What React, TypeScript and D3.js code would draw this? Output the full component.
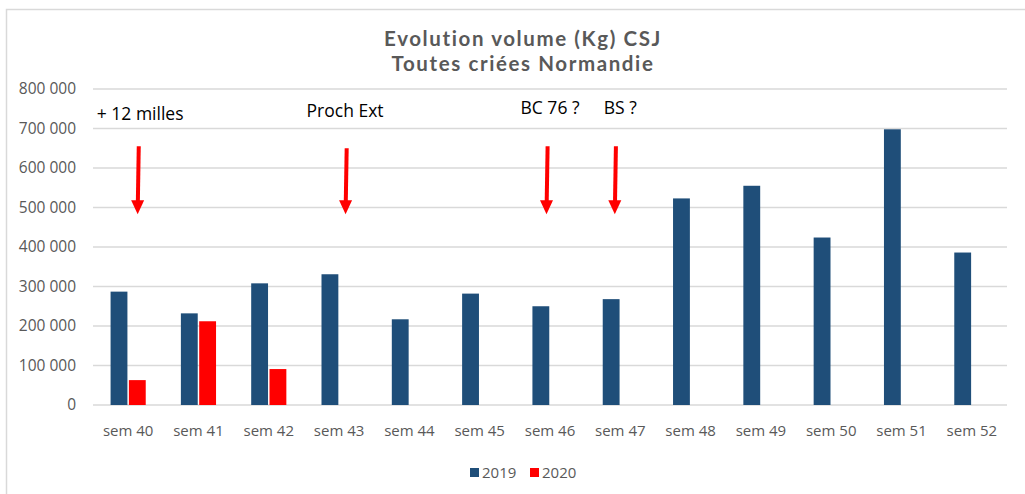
import React from "react";
import * as d3 from "d3";

const categories = ["sem 40","sem 41","sem 42","sem 43","sem 44","sem 45","sem 46","sem 47","sem 48","sem 49","sem 50","sem 51","sem 52"];
const series = ["2019", "2020"];
const values2019 = [287000, 232000, 308000, 331000, 217000, 282000, 250000, 268000, 523000, 555000, 424000, 698000, 386000];
const values2020: (number | null)[] = [63000, 212000, 91000, null, null, null, null, null, null, null, null, null, null];
const yTicks = [0, 100000, 200000, 300000, 400000, 500000, 600000, 700000, 800000];
const titleLines = ["Evolution volume (Kg) CSJ", "Toutes criées Normandie"];
const annotationCategories = ["sem 40", "sem 43", "sem 46", "sem 47"];
const annotationLabels = ["+ 12 milles", "Proch Ext", "BC 76 ?", "BS ?"];
const arrowTopValue = 655000;
const arrowTipValue = 483000;

const COLORS: Record<string, string> = { "2019": "#1F4E79", "2020": "#FF0000" };
const FONT = "'Open Sans', Calibri, sans-serif";

export default function App() {
  const W = 1025, H = 494;
  const plotLeft = 93, plotRight = 1007, plotTop = 89, plotBottom = 405;

  const x = d3.scaleBand<string>().domain(categories).range([plotLeft, plotRight]).paddingInner(0.5).paddingOuter(0.25);
  const xs = d3.scaleBand<string>().domain(series).range([0, x.bandwidth()]).paddingInner(0.08);
  const y = d3.scaleLinear().domain([0, 800000]).range([plotBottom, plotTop]);
  const fmt = (v: number) => d3.format(",")(v).replace(/,/g, " ");

  const center = (c: string) => (x(c) ?? 0) + x.bandwidth() / 2;
  // hand-drawn offsets of annotations relative to category centre
  const arrowDx = [10, 7, -3, -5];
  const textDx = [12, 6, 0, 0];
  const textDy = [0, -3, -6, -6];

  const rows = categories.map((c, i) => ({ c, v: { "2019": values2019[i], "2020": values2020[i] } as Record<string, number | null> }));

  return (
    <svg width={W} height={H} style={{ position: "absolute", left: 0, top: 0, background: "#fff" }}>
      <rect x={0} y={0} width={W} height={H} fill="#fff" />
      <rect x={6.5} y={9.5} width={W + 100} height={H + 100} fill="none" stroke="#D9D9D9" strokeWidth={1.5} />
      {titleLines.map((t, i) => (
        <text key={t} x={523} y={46 + i * 25} textAnchor="middle" fontFamily="Lato, 'Open Sans', sans-serif" fontWeight={700} fontSize={20.5} letterSpacing={1.6} fill="#595959">{t}</text>
      ))}
      {yTicks.map((t) => (
        <g key={t}>
          <line x1={plotLeft} x2={plotRight} y1={y(t)} y2={y(t)} stroke="#D9D9D9" strokeWidth={1.5} />
          <text x={76} y={y(t) + 5} textAnchor="end" fontFamily={FONT} fontSize={15.5} fill="#595959">{fmt(t)}</text>
        </g>
      ))}
      {rows.map((r) => (
        <g key={r.c} transform={`translate(${x(r.c)},0)`}>
          {series.map((s) => {
            const v = r.v[s];
            if (v == null) return null;
            return <rect key={s} x={xs(s)} y={y(v)} width={xs.bandwidth()} height={y(0) - y(v)} fill={COLORS[s]} />;
          })}
        </g>
      ))}
      {categories.map((c) => (
        <text key={c} x={center(c)} y={436} textAnchor="middle" fontFamily={FONT} fontSize={15} fill="#595959">{c}</text>
      ))}
      {annotationCategories.map((c, i) => {
        const ax = center(c) + arrowDx[i];
        const y1 = y(arrowTopValue), y2 = y(arrowTipValue);
        return (
          <g key={c}>
            <line x1={ax + 0.6} x2={ax - 0.3} y1={y1 + (i === 1 ? 2 : 0)} y2={y2 - 12} stroke="#FF0000" strokeWidth={4} />
            <path d={`M${ax - 7},${y2 - 14} L${ax + 6},${y2 - 14} L${ax - 0.5},${y2} Z`} fill="#FF0000" />
            <text x={center(c) + textDx[i]} y={120 + textDy[i]} textAnchor="middle" fontFamily={FONT} fontSize={17.5} fill="#000">{annotationLabels[i]}</text>
          </g>
        );
      })}
      <g>
        <rect x={470} y={468} width={9} height={9} fill={COLORS["2019"]} />
        <text x={482} y={477.5} fontFamily={FONT} fontSize={15} fill="#595959">2019</text>
        <rect x={530} y={468} width={9} height={9} fill={COLORS["2020"]} />
        <text x={542} y={477.5} fontFamily={FONT} fontSize={15} fill="#595959">2020</text>
      </g>
    </svg>
  );
}
